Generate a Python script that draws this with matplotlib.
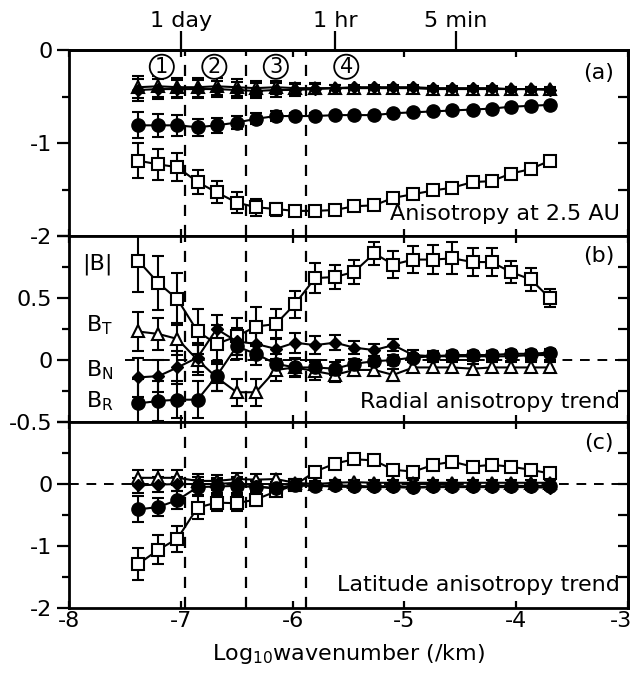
#!/usr/bin/env python3
"""
Anisotropy of magnetic fluctuations vs wavenumber, three stacked panels
"""

import matplotlib
matplotlib.use('Agg')
import matplotlib.pyplot as plt
from matplotlib.ticker import FixedLocator
from matplotlib.transforms import ScaledTranslation

plt.rcParams['font.family'] = ['DejaVu Sans']
plt.rcParams['mathtext.fontset'] = 'custom'
plt.rcParams['mathtext.rm'] = 'DejaVu Sans'
plt.rcParams['mathtext.default'] = 'regular'
plt.rcParams['axes.unicode_minus'] = False

# log10 wavenumber of each bin
logk = [-7.38, -7.20, -7.03, -6.85, -6.68, -6.50, -6.33, -6.15, -5.98, -5.80, -5.62,
        -5.45, -5.27, -5.10, -4.92, -4.74, -4.57, -4.39, -4.22, -4.05, -3.87, -3.70]

# panel (a): anisotropy at 2.5 AU
a_B = [-1.19, -1.23, -1.26, -1.42, -1.53, -1.64, -1.69, -1.71, -1.73, -1.73, -1.72,
       -1.68, -1.67, -1.59, -1.55, -1.51, -1.48, -1.42, -1.41, -1.33, -1.28, -1.19]
a_B_err = [0.19, 0.17, 0.15, 0.13, 0.12, 0.11, 0.09, 0.07, 0.05, 0.04, 0.03,
           0.03, 0.03, 0.03, 0.03, 0.03, 0.03, 0.03, 0.03, 0.03, 0.03, 0.03]
a_R = [-0.81, -0.81, -0.81, -0.83, -0.81, -0.78, -0.74, -0.71, -0.71, -0.71, -0.70,
       -0.70, -0.70, -0.68, -0.67, -0.66, -0.65, -0.64, -0.63, -0.61, -0.60, -0.59]
a_R_err = [0.14, 0.12, 0.11, 0.09, 0.08, 0.07, 0.06, 0.05, 0.03, 0.03, 0.02,
           0.02, 0.02, 0.02, 0.02, 0.02, 0.02, 0.02, 0.02, 0.02, 0.02, 0.02]
a_T = [-0.40, -0.39, -0.40, -0.40, -0.39, -0.40, -0.41, -0.40, -0.41, -0.41, -0.41,
       -0.41, -0.41, -0.41, -0.41, -0.42, -0.42, -0.42, -0.42, -0.42, -0.42, -0.42]
a_N = [-0.43, -0.42, -0.42, -0.42, -0.42, -0.43, -0.44, -0.43, -0.43, -0.42, -0.41,
       -0.40, -0.40, -0.40, -0.40, -0.41, -0.41, -0.41, -0.41, -0.42, -0.42, -0.43]
a_TN_err = [0.12, 0.11, 0.10, 0.10, 0.09, 0.09, 0.08, 0.07, 0.06, 0.05, 0.03,
            0.02, 0.02, 0.02, 0.02, 0.02, 0.02, 0.02, 0.02, 0.02, 0.02, 0.02]

# panel (b): radial anisotropy trend
b_B = [0.80, 0.62, 0.49, 0.23, 0.13, 0.19, 0.27, 0.29, 0.45, 0.66, 0.67,
       0.71, 0.86, 0.77, 0.81, 0.81, 0.82, 0.79, 0.79, 0.71, 0.65, 0.50]
b_B_err = [0.25, 0.22, 0.21, 0.18, 0.15, 0.15, 0.16, 0.12, 0.11, 0.12, 0.10,
           0.10, 0.09, 0.11, 0.11, 0.12, 0.13, 0.11, 0.11, 0.09, 0.09, 0.07]
b_T = [0.23, 0.21, 0.17, 0.00, -0.14, -0.26, -0.26, -0.08, -0.06, -0.09, -0.12,
       -0.08, -0.08, -0.12, -0.06, -0.06, -0.06, -0.07, -0.06, -0.06, -0.06, -0.06]
b_N = [-0.14, -0.13, -0.06, 0.02, 0.25, 0.15, 0.13, 0.09, 0.14, 0.12, 0.14,
       0.10, 0.08, 0.12, 0.04, 0.03, 0.03, 0.03, 0.03, 0.03, 0.04, 0.04]
b_R = [-0.35, -0.33, -0.32, -0.32, -0.13, 0.11, 0.05, -0.03, -0.06, -0.06, -0.07,
       -0.03, -0.01, 0.00, 0.02, 0.03, 0.04, 0.04, 0.04, 0.05, 0.05, 0.06]
b_err = [0.16, 0.13, 0.13, 0.12, 0.11, 0.11, 0.11, 0.09, 0.08, 0.07, 0.06,
         0.05, 0.05, 0.05, 0.04, 0.04, 0.04, 0.04, 0.04, 0.04, 0.04, 0.04]
b_R_err = [0.20, 0.16, 0.15, 0.15, 0.12, 0.10, 0.09, 0.08, 0.07, 0.06, 0.05,
           0.04, 0.04, 0.04, 0.03, 0.03, 0.03, 0.03, 0.03, 0.03, 0.03, 0.03]

# panel (c): latitude anisotropy trend
c_B = [-1.29, -1.06, -0.88, -0.38, -0.30, -0.31, -0.25, -0.12, -0.02, 0.20, 0.33,
       0.40, 0.38, 0.23, 0.20, 0.31, 0.36, 0.28, 0.31, 0.28, 0.23, 0.17]
c_B_err = [0.26, 0.23, 0.21, 0.19, 0.13, 0.13, 0.10, 0.08, 0.07, 0.06, 0.06,
           0.06, 0.06, 0.05, 0.05, 0.06, 0.06, 0.06, 0.05, 0.05, 0.05, 0.05]
c_R = [-0.41, -0.37, -0.26, -0.05, -0.04, -0.03, -0.05, -0.06, -0.02, -0.03, -0.02,
       -0.03, -0.04, -0.03, -0.05, -0.04, -0.03, -0.04, -0.03, -0.03, -0.03, -0.03]
c_R_err = [0.21, 0.15, 0.14, 0.12, 0.11, 0.11, 0.10, 0.09, 0.06, 0.05, 0.04,
           0.04, 0.04, 0.04, 0.04, 0.04, 0.04, 0.04, 0.04, 0.04, 0.04, 0.04]
c_T = [0.10, 0.10, 0.10, 0.05, 0.05, 0.08, 0.07, 0.08, 0.02, 0.00, 0.02,
       0.03, 0.02, 0.02, 0.02, 0.02, 0.02, 0.02, 0.02, 0.02, 0.02, 0.02]
c_N = [-0.02, -0.01, 0.00, 0.00, 0.00, 0.02, -0.03, -0.08, -0.02, -0.03, -0.04,
       -0.05, -0.05, -0.05, -0.06, -0.05, -0.05, -0.05, -0.05, -0.05, -0.05, -0.06]
c_err = [0.12, 0.12, 0.12, 0.11, 0.10, 0.10, 0.09, 0.08, 0.06, 0.05, 0.04,
         0.04, 0.04, 0.04, 0.04, 0.04, 0.04, 0.04, 0.04, 0.04, 0.04, 0.04]

# interval boundaries and time-scale axis
boundaries = [-6.96, -6.42, -5.88]
region_x = [-7.17, -6.70, -6.15, -5.52]
region_labels = ['1', '2', '3', '4']
time_ticks = [-7.0, -5.62, -4.54]
time_labels = ['1 day', '1 hr', '5 min']
x_ticks = [-8, -7, -6, -5, -4, -3]
x_labels = ['-8', '-7', '-6', '-5', '-4', '-3']

FS = 16


def draw_series(ax, y, err, style):
    kw = dict(color='black', lw=1.5, elinewidth=1.5, capsize=4.5, capthick=1.5)
    if style == 'B':
        kw.update(marker='s', ms=8.5, mfc='white', mec='black', mew=1.5)
    elif style == 'R':
        kw.update(marker='o', ms=9.5, mfc='black', mec='black')
    elif style == 'T':
        kw.update(marker='^', ms=9, mfc='white', mec='black', mew=1.5)
    elif style == 'N':
        kw.update(marker='D', ms=6, mfc='black', mec='black')
    ax.errorbar(logk, y, yerr=err, **kw)


def style_axes(ax, major, labels, minor, right):
    ax.set_xlim(-8, -3)
    ax.yaxis.set_major_locator(FixedLocator(major))
    ax.set_yticklabels(labels)
    ax.yaxis.set_minor_locator(FixedLocator(minor))
    ax.tick_params(axis='y', which='major', direction='out', length=9, width=1.6,
                   labelsize=FS, pad=3)
    ax.tick_params(axis='y', which='minor', direction='out', length=5, width=1.6)
    ax.tick_params(axis='x', which='major', direction='in', length=5, width=1.6,
                   top=True, bottom=True, labelsize=FS)
    for s in ax.spines.values():
        s.set_linewidth(2)
    sec = ax.secondary_yaxis('right')
    sec.set_yticks(right)
    sec.set_yticklabels([])
    sec.tick_params(direction='in', length=7, width=1.6)
    sec.spines['right'].set_linewidth(2)
    for b in boundaries:
        ax.axvline(b, color='black', lw=1.6, ls=(0, (5, 4)), zorder=1)


fig, axes = plt.subplots(3, 1, figsize=(6.36, 6.74), dpi=100, sharex=True)
fig.subplots_adjust(left=0.1085, right=0.9874, top=0.9258, bottom=0.0979, hspace=0)
ax1, ax2, ax3 = axes

# === Panel (a) ===
draw_series(ax1, a_B, a_B_err, 'B')
draw_series(ax1, a_R, a_R_err, 'R')
draw_series(ax1, a_T, a_TN_err, 'T')
draw_series(ax1, a_N, a_TN_err, 'N')
ax1.set_ylim(-2, 0)
style_axes(ax1, [0, -1, -2], ['0', '-1', '-2'], [-0.5, -1.5],
           [-0.5, -1.0, -1.5])
for x, lab in zip(region_x, region_labels):
    ax1.text(x, -0.18, lab, ha='center', va='center', fontsize=15,
             bbox=dict(boxstyle='circle,pad=0.1', fc='white', ec='black', lw=1.3))
ax1.text(0.975, 0.875, '(a)', transform=ax1.transAxes, ha='right', va='center', fontsize=FS)
ax1.text(0.985, 0.12, 'Anisotropy at 2.5 AU', transform=ax1.transAxes,
         ha='right', va='center', fontsize=FS)
top = ax1.secondary_xaxis('top')
top.set_xticks(time_ticks)
top.set_xticklabels(time_labels)
top.tick_params(direction='out', length=14, width=1.6, labelsize=FS, pad=0)
top.spines['top'].set_linewidth(2)

# === Panel (b) ===
ax2.hlines(0, -7.5, -3, color='black', lw=1.4, ls=(0, (5, 4)), zorder=1)
draw_series(ax2, b_B, b_B_err, 'B')
draw_series(ax2, b_T, b_err, 'T')
draw_series(ax2, b_N, b_err, 'N')
draw_series(ax2, b_R, b_R_err, 'R')
ax2.set_ylim(-0.5, 1.0)
style_axes(ax2, [1.0, 0.5, 0, -0.5], ['', '0.5', '0', '-0.5'], [0.75, 0.25, -0.25],
           [0.75, 0.5, 0.25, 0.0, -0.25])
ax2.text(-7.88, 0.73, '|B|', ha='left', va='baseline', fontsize=FS)
ax2.text(-7.85, 0.23, 'B$_T$', ha='left', va='baseline', fontsize=FS)
ax2.text(-7.85, -0.13, 'B$_N$', ha='left', va='baseline', fontsize=FS)
ax2.text(-7.85, -0.385, 'B$_R$', ha='left', va='baseline', fontsize=FS)
ax2.text(0.975, 0.89, '(b)', transform=ax2.transAxes, ha='right', va='center', fontsize=FS)
ax2.text(0.985, 0.11, 'Radial anisotropy trend', transform=ax2.transAxes,
         ha='right', va='center', fontsize=FS)

# === Panel (c) ===
ax3.axhline(0, color='black', lw=1.4, ls=(0, (5, 4)), zorder=1)
draw_series(ax3, c_B, c_B_err, 'B')
draw_series(ax3, c_T, c_err, 'T')
draw_series(ax3, c_N, c_err, 'N')
draw_series(ax3, c_R, c_R_err, 'R')
ax3.set_ylim(-2, 1)
style_axes(ax3, [1, 0, -1, -2], ['', '0', '-1', '-2'], [0.5, -0.5, -1.5],
           [0.5, 0.0, -0.5, -1.0, -1.5])
ax3.text(0.975, 0.887, '(c)', transform=ax3.transAxes, ha='right', va='center', fontsize=FS)
ax3.text(0.985, 0.124, 'Latitude anisotropy trend', transform=ax3.transAxes,
         ha='right', va='center', fontsize=FS)
ax3.set_xticks(x_ticks)
ax3.set_xticklabels(x_labels)
ax3.tick_params(axis='x', pad=2)
# keep the last label inside the figure edge
last = ax3.get_xticklabels()[-1]
last.set_transform(last.get_transform() + ScaledTranslation(-5 / 72, 0, fig.dpi_scale_trans))
ax3.set_xlabel('Log$_{10}$wavenumber (/km)', fontsize=FS, labelpad=8)

plt.savefig('out.png', dpi=100)
